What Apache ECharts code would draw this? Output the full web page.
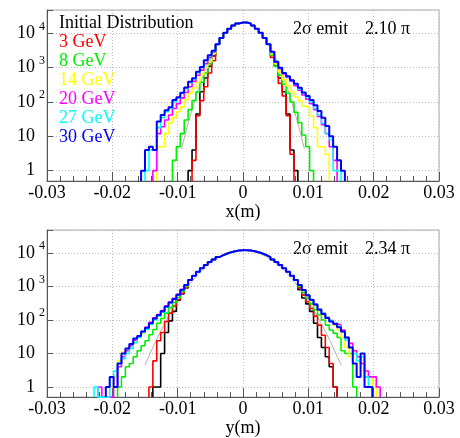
<!DOCTYPE html>
<html>
<head>
<meta charset="utf-8">
<script src="https://cdn.jsdelivr.net/npm/echarts@6/dist/echarts.min.js"></script>
<style>
html, body { margin: 0; padding: 0; background: #fff; }
#chart { width: 460px; height: 438px; }
</style>
</head>
<body>
<div id="chart"></div>
<script>
// histogram binning: 100 bins of 0.0006 m from -0.03 to 0.03
var BIN0 = -0.03;
var BINW = 0.0006;
var YMIN = 0.5;
var YMAX = 48000;

var names = ['Initial Distribution', '3 GeV', '8 GeV', '14 GeV', '20 GeV', '27 GeV', '30 GeV'];
var colors = ['#000000', '#ff0000', '#00ee00', '#ffff00', '#ff00ff', '#00ffff', '#0000ff'];
var xTicks = [-0.03, -0.02, -0.01, 0, 0.01, 0.02, 0.03];

// ---- x distribution (top) ----
// bins 43..56 are common to every energy
var xCoreFrom = 43;
var xCore = [4860, 7370, 10400, 13700, 16900, 19400, 20800, 20800, 19400, 16900, 13700, 10400, 7370, 4860];
// left tails end at bin 42, right tails start at bin 57 (same order as names)
var xLeft = [
  [1, 4, 45, 200, 500, 1100, 2200],
  [2, 40, 110, 280, 700, 1600],
  [2, 5, 12, 30, 60, 110, 200, 380, 700, 1300, 2700],
  [5, 5, 12, 25, 35, 52, 72, 115, 180, 255, 370, 640, 1000, 1500, 2600],
  [1, 12, 19, 30, 42, 65, 90, 130, 190, 280, 400, 600, 850, 1300, 2000, 2900],
  [1, 4, 4, 18, 35, 52, 65, 100, 130, 180, 250, 370, 470, 720, 1000, 1600, 2200, 3000],
  [1, 4, 5, 4, 27, 42, 58, 70, 115, 137, 185, 266, 390, 490, 760, 1050, 1650, 2300, 3100]
];
var xRight = [
  [2300, 1100, 500, 200, 45, 4, 1],
  [2000, 1100, 350, 150, 40, 3],
  [2300, 1100, 600, 330, 180, 100, 50, 25, 11, 5, 1],
  [2500, 1300, 750, 450, 300, 200, 140, 110, 75, 70, 40, 18, 5, 5, 3],
  [2800, 1450, 950, 660, 520, 400, 300, 220, 160, 120, 90, 60, 38, 22, 12, 5, 2],
  [2800, 1500, 1000, 690, 550, 420, 330, 240, 185, 140, 100, 65, 42, 24, 12, 8, 1, 1],
  [2900, 1500, 1000, 700, 560, 430, 340, 260, 190, 150, 115, 80, 55, 35, 20, 10, 5, 2, 1]
];
var xFitX = [-0.0094, -0.0088, -0.008, -0.0072, -0.0064, -0.0056, -0.0048, -0.004, -0.0032, -0.0024, -0.0016, -0.0008, 0,
             0.0008, 0.0016, 0.0024, 0.0032, 0.004, 0.0048, 0.0056, 0.0064, 0.0072, 0.008, 0.0088, 0.0094];
var xFitY = [4.3, 12.3, 44.6, 144, 409, 1030, 2290, 4510, 7840, 12070, 16420, 19750, 21000,
             19750, 16420, 12070, 7840, 4510, 2290, 1030, 409, 144, 44.6, 12.3, 4.3];

// ---- y distribution (bottom) ----
var yCoreFrom = 36;
var yCore = [1540, 2070, 2710, 3470, 4350, 5320, 6370, 7460, 8540, 9550, 10450, 11190, 11700, 11970,
             11970, 11700, 11190, 10450, 9550, 8540, 7460, 6370, 5320, 4350, 3470, 2710, 2070, 1540];
var yLeft = [
  [1, 1, 10, 42, 94, 180, 390, 600, 900],
  [1, 6, 24, 42, 90, 160, 260, 400, 620, 950],
  [1, 2, 4, 5, 8, 12, 17, 24, 36, 52, 80, 110, 160, 230, 330, 460, 700, 1000],
  [1, 1, 2, 6, 11, 13, 16, 22, 30, 40, 52, 72, 100, 130, 170, 240, 320, 420, 560, 780, 1100],
  [1, 0, 0, 0, 1, 4, 8, 12, 17, 25, 32, 45, 60, 85, 115, 145, 190, 260, 340, 440, 580, 800, 1100],
  [1, 0, 0, 0, 2, 3, 5, 7, 10, 14, 21, 30, 42, 52, 75, 100, 130, 170, 240, 320, 420, 560, 780, 1100],
  [1, 2, 1, 5, 10, 14, 19, 28, 33, 45, 58, 80, 110, 140, 180, 250, 330, 420, 560, 800, 1100]
];
var yRight = [
  [800, 450, 300, 180, 80, 30, 15, 8, 4, 1],
  [900, 550, 350, 220, 130, 70, 35, 15, 5, 1],
  [1000, 650, 450, 300, 200, 140, 100, 70, 50, 40, 30, 12, 10, 10, 1],
  [1100, 750, 520, 370, 260, 190, 140, 110, 90, 70, 50, 30, 15, 8, 5, 5, 3, 2, 2, 1],
  [1100, 780, 540, 400, 290, 210, 160, 120, 95, 80, 70, 50, 30, 20, 12, 8, 5, 3, 2, 2, 1],
  [1100, 780, 540, 400, 290, 210, 160, 120, 95, 80, 65, 45, 25, 15, 10, 6, 8, 2, 1],
  [1100, 780, 540, 400, 290, 200, 150, 115, 90, 75, 60, 45, 30, 15, 5, 2, 10, 1, 1]
];
var yFitX = [-0.015, -0.014, -0.013, -0.012, -0.011, -0.01, -0.009, -0.008, -0.007, -0.006, -0.005, -0.004, -0.003, -0.002, -0.001, 0,
             0.001, 0.002, 0.003, 0.004, 0.005, 0.006, 0.007, 0.008, 0.009, 0.01, 0.011, 0.012, 0.013, 0.014, 0.015];
var yFitY = [4.5, 12.4, 32, 77, 172, 359, 700, 1270, 2150, 3390, 4990, 6850, 8750, 10430, 11590, 12000,
             11590, 10430, 8750, 6850, 4990, 3390, 2150, 1270, 700, 359, 172, 77, 32, 12.4, 4.5];

var SERIF = 'Liberation Serif';

function hist(left, coreFrom, core, right) {
  var s = coreFrom - left.length;
  var vals = left.concat(core, right);
  var pts = [[BIN0 + s * BINW, YMIN]];
  for (var k = 0; k < vals.length; k++) {
    pts.push([BIN0 + (s + k) * BINW, Math.max(vals[k], YMIN)]);
  }
  var e = BIN0 + (s + vals.length) * BINW;
  pts.push([e, Math.max(vals[vals.length - 1], YMIN)]);
  pts.push([e, YMIN]);
  return pts;
}

function zip(a, b) {
  return a.map(function (v, i) { return [v, b[i]]; });
}

function yLabel(v) {
  var l = Math.log(v) / Math.LN10;
  var p = Math.round(l);
  if (Math.abs(l - p) > 0.01) return '';
  if (p === 0) return '{b|1}{s| }';
  if (p === 1) return '{b|10}{s| }';
  return '{b|10}{s|' + p + '}';
}

function xAxisOf(gi, title) {
  return {
    type: 'value', gridIndex: gi, min: -0.03, max: 0.03, interval: 0.01,
    name: title, nameLocation: 'middle', nameGap: 19,
    nameTextStyle: { fontFamily: SERIF, fontSize: 18, color: '#000' },
    axisLine: { onZero: false, lineStyle: { color: '#555', width: 1 } },
    axisTick: { inside: true, length: 9, lineStyle: { color: '#555' } },
    minorTick: { show: true, splitNumber: 5, length: 5, lineStyle: { color: '#555' } },
    splitLine: { show: true, lineStyle: { color: '#bbb', type: [1, 2] } },
    axisLabel: {
      margin: 3, fontFamily: SERIF, fontSize: 18, color: '#000',
      formatter: function (v) {
        for (var i = 0; i < xTicks.length; i++) {
          if (Math.abs(v - xTicks[i]) < 1e-9) return String(xTicks[i]);
        }
        return '';
      }
    }
  };
}

function yAxisOf(gi) {
  return {
    type: 'log', logBase: 10, gridIndex: gi, min: YMIN, max: YMAX,
    axisLine: { show: true, onZero: false, lineStyle: { color: '#555', width: 1 } },
    axisTick: { show: true, inside: true, length: 6, lineStyle: { color: '#555' } },
    splitLine: { show: true, lineStyle: { color: '#bbb', type: [1, 2] } },
    axisLabel: {
      margin: 0, formatter: yLabel,
      rich: {
        b: { fontFamily: SERIF, fontSize: 18, color: '#000' },
        s: { fontFamily: SERIF, fontSize: 12, color: '#000', width: 10, align: 'left', padding: [0, 0, 14, 2] }
      }
    }
  };
}

var series = [];
function addPanel(gi, left, coreFrom, core, right, fitX, fitY) {
  for (var i = 0; i < names.length; i++) {
    series.push({
      name: names[i], type: 'line', xAxisIndex: gi, yAxisIndex: gi,
      step: 'end', symbol: 'none', silent: true,
      lineStyle: { color: colors[i], width: i === 6 ? 2 : 1.6 },
      itemStyle: { color: colors[i] },
      data: hist(left[i], coreFrom, core, right[i]),
      z: 3 + i
    });
    if (i === 0) {
      series.push({
        name: 'fit', type: 'line', xAxisIndex: gi, yAxisIndex: gi,
        smooth: true, symbol: 'none', silent: true,
        lineStyle: { color: '#999', width: 0.8 },
        data: zip(fitX, fitY), z: 3
      });
    }
  }
}
addPanel(0, xLeft, xCoreFrom, xCore, xRight, xFitX, xFitY);
addPanel(1, yLeft, yCoreFrom, yCore, yRight, yFitX, yFitY);

var chart = echarts.init(document.getElementById('chart'), null, { renderer: 'canvas' });
chart.setOption({
  animation: false,
  backgroundColor: '#fff',
  grid: [
    { left: 47, right: 21, top: 10, height: 171, show: true, borderColor: '#aaa', backgroundColor: 'transparent' },
    { left: 47, right: 21, top: 230, height: 171, show: true, borderColor: '#aaa', backgroundColor: 'transparent' }
  ],
  xAxis: [xAxisOf(0, 'x(m)'), xAxisOf(1, 'y(m)')],
  yAxis: [yAxisOf(0), yAxisOf(1)],
  legend: {
    left: 54, top: 14, orient: 'vertical', icon: 'none',
    itemWidth: 0, itemHeight: 0, itemGap: 0, padding: 0,
    selectedMode: false,
    textStyle: { fontFamily: SERIF, fontSize: 18, lineHeight: 19 },
    data: names.map(function (n, i) { return { name: n, textStyle: { color: colors[i] } }; })
  },
  graphic: [
    { type: 'text', left: 293, top: 20, style: { text: '2σ emit', font: '18px "Liberation Serif"', fill: '#000' } },
    { type: 'text', left: 365, top: 20, style: { text: '2.10 π', font: '18px "Liberation Serif"', fill: '#000' } },
    { type: 'text', left: 293, top: 240, style: { text: '2σ emit', font: '18px "Liberation Serif"', fill: '#000' } },
    { type: 'text', left: 365, top: 240, style: { text: '2.34 π', font: '18px "Liberation Serif"', fill: '#000' } }
  ],
  series: series
});
</script>
</body>
</html>
